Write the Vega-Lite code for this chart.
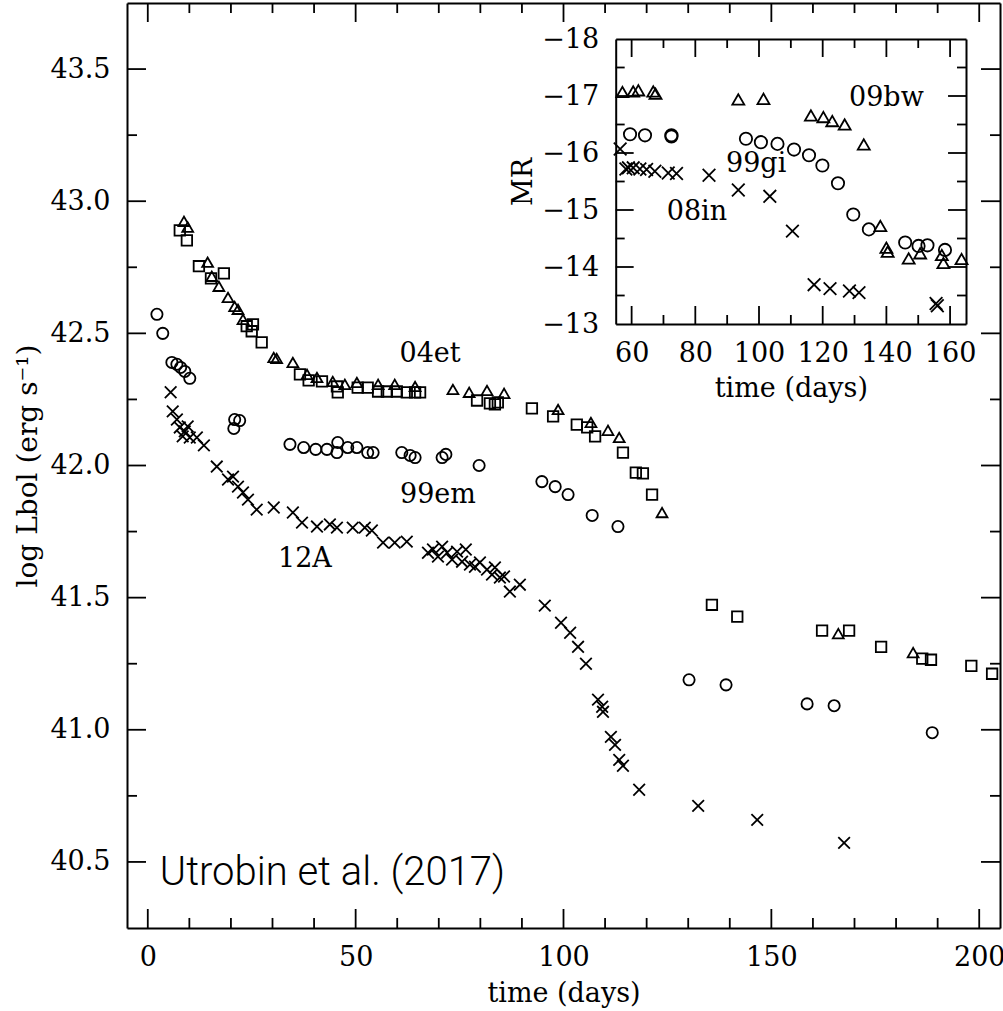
{
  "$schema": "https://vega.github.io/schema/vega-lite/v6.json",
  "width": 873,
  "height": 925,
  "autosize": {"type": "none"},
  "padding": {"left": 127, "top": 3, "right": 3, "bottom": 83},
  "background": "white",
  "config": {
    "view": {"stroke": null},
    "rule": {"color": "black", "strokeWidth": 1.8, "opacity": 1},
    "axis": {
      "grid": false,
      "domainColor": "black",
      "domainWidth": 2,
      "labelColor": "black",
      "titleColor": "black",
      "labelFont": "DejaVu Serif",
      "titleFont": "DejaVu Serif",
      "labelFontSize": 27,
      "titleFontSize": 27,
      "titleFontWeight": "normal",
      "labelFlush": false,
      "labelOverlap": false
    }
  },
  "datasets": {
    "main": [
      {"d": 7.7, "L": 42.890, "s": "04et_sq"}, {"d": 9.4, "L": 42.852, "s": "04et_sq"}, {"d": 12.3, "L": 42.754, "s": "04et_sq"},
      {"d": 15.2, "L": 42.708, "s": "04et_sq"}, {"d": 18.3, "L": 42.727, "s": "04et_sq"}, {"d": 23.8, "L": 42.527, "s": "04et_sq"},
      {"d": 25.3, "L": 42.534, "s": "04et_sq"}, {"d": 25.0, "L": 42.508, "s": "04et_sq"}, {"d": 27.4, "L": 42.466, "s": "04et_sq"},
      {"d": 36.6, "L": 42.345, "s": "04et_sq"}, {"d": 38.7, "L": 42.322, "s": "04et_sq"}, {"d": 41.9, "L": 42.318, "s": "04et_sq"},
      {"d": 45.5, "L": 42.299, "s": "04et_sq"}, {"d": 45.7, "L": 42.277, "s": "04et_sq"}, {"d": 50.5, "L": 42.295, "s": "04et_sq"},
      {"d": 52.9, "L": 42.295, "s": "04et_sq"}, {"d": 55.4, "L": 42.280, "s": "04et_sq"}, {"d": 57.5, "L": 42.280, "s": "04et_sq"},
      {"d": 59.9, "L": 42.280, "s": "04et_sq"}, {"d": 62.3, "L": 42.277, "s": "04et_sq"}, {"d": 64.3, "L": 42.277, "s": "04et_sq"},
      {"d": 65.5, "L": 42.277, "s": "04et_sq"}, {"d": 79.2, "L": 42.246, "s": "04et_sq"}, {"d": 82.3, "L": 42.235, "s": "04et_sq"},
      {"d": 83.5, "L": 42.231, "s": "04et_sq"}, {"d": 84.2, "L": 42.239, "s": "04et_sq"}, {"d": 92.4, "L": 42.216, "s": "04et_sq"},
      {"d": 97.5, "L": 42.186, "s": "04et_sq"}, {"d": 103.2, "L": 42.155, "s": "04et_sq"}, {"d": 105.7, "L": 42.144, "s": "04et_sq"},
      {"d": 107.6, "L": 42.110, "s": "04et_sq"}, {"d": 114.3, "L": 42.049, "s": "04et_sq"}, {"d": 117.4, "L": 41.973, "s": "04et_sq"},
      {"d": 119.1, "L": 41.970, "s": "04et_sq"}, {"d": 121.3, "L": 41.890, "s": "04et_sq"}, {"d": 135.7, "L": 41.473, "s": "04et_sq"},
      {"d": 141.8, "L": 41.428, "s": "04et_sq"}, {"d": 162.2, "L": 41.375, "s": "04et_sq"}, {"d": 168.7, "L": 41.375, "s": "04et_sq"},
      {"d": 176.4, "L": 41.314, "s": "04et_sq"}, {"d": 186.3, "L": 41.269, "s": "04et_sq"}, {"d": 188.4, "L": 41.265, "s": "04et_sq"},
      {"d": 198.1, "L": 41.242, "s": "04et_sq"}, {"d": 203.1, "L": 41.212, "s": "04et_sq"},

      {"d": 8.7, "L": 42.924, "s": "04et_tri"}, {"d": 9.6, "L": 42.902, "s": "04et_tri"}, {"d": 14.4, "L": 42.769, "s": "04et_tri"},
      {"d": 15.4, "L": 42.716, "s": "04et_tri"}, {"d": 17.1, "L": 42.678, "s": "04et_tri"}, {"d": 19.3, "L": 42.636, "s": "04et_tri"},
      {"d": 20.9, "L": 42.602, "s": "04et_tri"}, {"d": 21.7, "L": 42.591, "s": "04et_tri"}, {"d": 22.9, "L": 42.553, "s": "04et_tri"},
      {"d": 30.3, "L": 42.409, "s": "04et_tri"}, {"d": 31.0, "L": 42.405, "s": "04et_tri"}, {"d": 34.9, "L": 42.390, "s": "04et_tri"},
      {"d": 38.3, "L": 42.345, "s": "04et_tri"}, {"d": 40.7, "L": 42.333, "s": "04et_tri"}, {"d": 44.5, "L": 42.318, "s": "04et_tri"},
      {"d": 47.4, "L": 42.307, "s": "04et_tri"}, {"d": 50.3, "L": 42.314, "s": "04et_tri"}, {"d": 55.4, "L": 42.307, "s": "04et_tri"},
      {"d": 59.4, "L": 42.307, "s": "04et_tri"}, {"d": 64.3, "L": 42.299, "s": "04et_tri"}, {"d": 73.4, "L": 42.288, "s": "04et_tri"},
      {"d": 77.3, "L": 42.277, "s": "04et_tri"}, {"d": 81.6, "L": 42.284, "s": "04et_tri"}, {"d": 85.7, "L": 42.273, "s": "04et_tri"},
      {"d": 98.7, "L": 42.212, "s": "04et_tri"}, {"d": 106.6, "L": 42.163, "s": "04et_tri"}, {"d": 110.7, "L": 42.133, "s": "04et_tri"},
      {"d": 113.4, "L": 42.106, "s": "04et_tri"}, {"d": 123.7, "L": 41.822, "s": "04et_tri"}, {"d": 166.1, "L": 41.364, "s": "04et_tri"},
      {"d": 184.1, "L": 41.292, "s": "04et_tri"},

      {"d": 2.2, "L": 42.572, "s": "99em"}, {"d": 3.6, "L": 42.500, "s": "99em"}, {"d": 5.8, "L": 42.390, "s": "99em"},
      {"d": 7.0, "L": 42.383, "s": "99em"}, {"d": 7.9, "L": 42.371, "s": "99em"}, {"d": 8.9, "L": 42.356, "s": "99em"},
      {"d": 10.1, "L": 42.330, "s": "99em"}, {"d": 20.9, "L": 42.174, "s": "99em"}, {"d": 22.1, "L": 42.170, "s": "99em"},
      {"d": 20.7, "L": 42.140, "s": "99em"}, {"d": 34.2, "L": 42.080, "s": "99em"}, {"d": 37.5, "L": 42.068, "s": "99em"},
      {"d": 40.4, "L": 42.061, "s": "99em"}, {"d": 43.1, "L": 42.061, "s": "99em"}, {"d": 45.7, "L": 42.087, "s": "99em"},
      {"d": 45.5, "L": 42.049, "s": "99em"}, {"d": 48.1, "L": 42.068, "s": "99em"}, {"d": 50.3, "L": 42.068, "s": "99em"},
      {"d": 52.9, "L": 42.049, "s": "99em"}, {"d": 54.2, "L": 42.049, "s": "99em"}, {"d": 61.1, "L": 42.049, "s": "99em"},
      {"d": 63.1, "L": 42.038, "s": "99em"}, {"d": 64.3, "L": 42.030, "s": "99em"}, {"d": 70.8, "L": 42.030, "s": "99em"},
      {"d": 71.7, "L": 42.042, "s": "99em"}, {"d": 79.7, "L": 42.000, "s": "99em"}, {"d": 94.8, "L": 41.939, "s": "99em"},
      {"d": 98.0, "L": 41.920, "s": "99em"}, {"d": 101.1, "L": 41.890, "s": "99em"}, {"d": 106.9, "L": 41.811, "s": "99em"},
      {"d": 113.1, "L": 41.769, "s": "99em"}, {"d": 130.2, "L": 41.189, "s": "99em"}, {"d": 139.1, "L": 41.170, "s": "99em"},
      {"d": 158.6, "L": 41.098, "s": "99em"}, {"d": 165.1, "L": 41.091, "s": "99em"}, {"d": 188.7, "L": 40.989, "s": "99em"},

      {"d": 5.5, "L": 42.277, "s": "12A"}, {"d": 6.0, "L": 42.205, "s": "12A"}, {"d": 7.0, "L": 42.174, "s": "12A"},
      {"d": 7.7, "L": 42.144, "s": "12A"}, {"d": 8.9, "L": 42.129, "s": "12A"}, {"d": 9.6, "L": 42.148, "s": "12A"},
      {"d": 8.4, "L": 42.110, "s": "12A"}, {"d": 10.1, "L": 42.106, "s": "12A"}, {"d": 11.8, "L": 42.106, "s": "12A"},
      {"d": 13.5, "L": 42.076, "s": "12A"}, {"d": 16.6, "L": 41.996, "s": "12A"}, {"d": 19.3, "L": 41.947, "s": "12A"},
      {"d": 20.5, "L": 41.958, "s": "12A"}, {"d": 21.7, "L": 41.920, "s": "12A"}, {"d": 22.9, "L": 41.898, "s": "12A"},
      {"d": 24.1, "L": 41.871, "s": "12A"}, {"d": 26.2, "L": 41.833, "s": "12A"}, {"d": 30.3, "L": 41.841, "s": "12A"},
      {"d": 34.9, "L": 41.822, "s": "12A"}, {"d": 37.1, "L": 41.784, "s": "12A"}, {"d": 40.7, "L": 41.769, "s": "12A"},
      {"d": 43.8, "L": 41.777, "s": "12A"}, {"d": 45.5, "L": 41.765, "s": "12A"}, {"d": 49.3, "L": 41.765, "s": "12A"},
      {"d": 52.2, "L": 41.765, "s": "12A"}, {"d": 53.9, "L": 41.754, "s": "12A"}, {"d": 56.6, "L": 41.708, "s": "12A"},
      {"d": 59.4, "L": 41.708, "s": "12A"}, {"d": 62.3, "L": 41.712, "s": "12A"}, {"d": 67.4, "L": 41.670, "s": "12A"},
      {"d": 68.6, "L": 41.682, "s": "12A"}, {"d": 69.8, "L": 41.655, "s": "12A"}, {"d": 70.8, "L": 41.693, "s": "12A"},
      {"d": 72.0, "L": 41.670, "s": "12A"}, {"d": 73.2, "L": 41.644, "s": "12A"}, {"d": 74.4, "L": 41.674, "s": "12A"},
      {"d": 75.6, "L": 41.636, "s": "12A"}, {"d": 76.5, "L": 41.682, "s": "12A"}, {"d": 77.5, "L": 41.625, "s": "12A"},
      {"d": 78.7, "L": 41.617, "s": "12A"}, {"d": 79.9, "L": 41.633, "s": "12A"}, {"d": 81.6, "L": 41.606, "s": "12A"},
      {"d": 82.8, "L": 41.587, "s": "12A"}, {"d": 83.5, "L": 41.614, "s": "12A"}, {"d": 84.7, "L": 41.576, "s": "12A"},
      {"d": 85.7, "L": 41.580, "s": "12A"}, {"d": 87.1, "L": 41.523, "s": "12A"}, {"d": 89.5, "L": 41.549, "s": "12A"},
      {"d": 95.5, "L": 41.470, "s": "12A"}, {"d": 99.4, "L": 41.405, "s": "12A"}, {"d": 101.6, "L": 41.367, "s": "12A"},
      {"d": 103.5, "L": 41.314, "s": "12A"}, {"d": 105.4, "L": 41.250, "s": "12A"}, {"d": 108.3, "L": 41.114, "s": "12A"},
      {"d": 109.3, "L": 41.087, "s": "12A"}, {"d": 109.5, "L": 41.068, "s": "12A"}, {"d": 111.4, "L": 40.973, "s": "12A"},
      {"d": 112.4, "L": 40.943, "s": "12A"}, {"d": 113.4, "L": 40.886, "s": "12A"}, {"d": 114.3, "L": 40.864, "s": "12A"},
      {"d": 118.2, "L": 40.773, "s": "12A"}, {"d": 132.4, "L": 40.712, "s": "12A"}, {"d": 146.6, "L": 40.659, "s": "12A"},
      {"d": 167.5, "L": 40.572, "s": "12A"}
    ],
    "inset": [
      {"d": 57.1, "m": -17.07, "s": "09bw"}, {"d": 60.5, "m": -17.08, "s": "09bw"}, {"d": 62.1, "m": -17.10, "s": "09bw"},
      {"d": 66.8, "m": -17.08, "s": "09bw"}, {"d": 67.5, "m": -17.04, "s": "09bw"}, {"d": 93.5, "m": -16.94, "s": "09bw"},
      {"d": 101.4, "m": -16.95, "s": "09bw"}, {"d": 116.3, "m": -16.66, "s": "09bw"}, {"d": 120.2, "m": -16.63, "s": "09bw"},
      {"d": 123.0, "m": -16.56, "s": "09bw"}, {"d": 126.9, "m": -16.50, "s": "09bw"}, {"d": 132.9, "m": -16.15, "s": "09bw"},
      {"d": 138.1, "m": -14.72, "s": "09bw"}, {"d": 140.0, "m": -14.34, "s": "09bw"}, {"d": 140.4, "m": -14.27, "s": "09bw"},
      {"d": 147.0, "m": -14.15, "s": "09bw"}, {"d": 150.6, "m": -14.24, "s": "09bw"}, {"d": 157.4, "m": -14.21, "s": "09bw"},
      {"d": 157.9, "m": -14.07, "s": "09bw"}, {"d": 163.6, "m": -14.14, "s": "09bw"},

      {"d": 59.5, "m": -16.33, "s": "99gi"}, {"d": 64.2, "m": -16.31, "s": "99gi"}, {"d": 72.5, "m": -16.31, "s": "99gi"},
      {"d": 72.5, "m": -16.29, "s": "99gi"}, {"d": 95.9, "m": -16.25, "s": "99gi"}, {"d": 100.6, "m": -16.19, "s": "99gi"},
      {"d": 105.8, "m": -16.16, "s": "99gi"}, {"d": 111.0, "m": -16.06, "s": "99gi"}, {"d": 115.7, "m": -15.96, "s": "99gi"},
      {"d": 119.9, "m": -15.78, "s": "99gi"}, {"d": 124.8, "m": -15.47, "s": "99gi"}, {"d": 129.6, "m": -14.92, "s": "99gi"},
      {"d": 134.5, "m": -14.66, "s": "99gi"}, {"d": 145.9, "m": -14.43, "s": "99gi"}, {"d": 150.1, "m": -14.37, "s": "99gi"},
      {"d": 152.9, "m": -14.38, "s": "99gi"}, {"d": 158.4, "m": -14.30, "s": "99gi"},

      {"d": 56.4, "m": -16.07, "s": "08in"}, {"d": 58.2, "m": -15.72, "s": "08in"}, {"d": 59.0, "m": -15.74, "s": "08in"},
      {"d": 60.5, "m": -15.74, "s": "08in"}, {"d": 62.6, "m": -15.72, "s": "08in"}, {"d": 64.7, "m": -15.71, "s": "08in"},
      {"d": 67.3, "m": -15.68, "s": "08in"}, {"d": 71.5, "m": -15.65, "s": "08in"}, {"d": 74.1, "m": -15.64, "s": "08in"},
      {"d": 84.3, "m": -15.61, "s": "08in"}, {"d": 93.5, "m": -15.35, "s": "08in"}, {"d": 103.4, "m": -15.24, "s": "08in"},
      {"d": 110.5, "m": -14.63, "s": "08in"}, {"d": 117.3, "m": -13.69, "s": "08in"}, {"d": 122.3, "m": -13.62, "s": "08in"},
      {"d": 128.4, "m": -13.58, "s": "08in"}, {"d": 131.4, "m": -13.55, "s": "08in"}, {"d": 155.6, "m": -13.36, "s": "08in"},
      {"d": 156.0, "m": -13.32, "s": "08in"}
    ],
    "ann": [
      {"d": 67.9, "L": 42.39, "t": "04et"},
      {"d": 69.8, "L": 41.86, "t": "99em"},
      {"d": 37.8, "L": 41.617, "t": "12A"}
    ],
    "credit": [
      {"d": 2.9, "L": 40.413, "t": "Utrobin et al. (2017)"}
    ],
    "inann": [
      {"d": 140.0, "m": -16.83, "t": "09bw"},
      {"d": 99.1, "m": -15.67, "t": "99gi"},
      {"d": 80.5, "m": -14.82, "t": "08in"}
    ],
    "mxmaj": [{"v": 0}, {"v": 50}, {"v": 100}, {"v": 150}, {"v": 200}],
    "mxmin": [{"v": 10}, {"v": 20}, {"v": 30}, {"v": 40}, {"v": 60}, {"v": 70}, {"v": 80}, {"v": 90}, {"v": 110}, {"v": 120}, {"v": 130}, {"v": 140}, {"v": 160}, {"v": 170}, {"v": 180}, {"v": 190}],
    "mymaj": [{"v": 40.5}, {"v": 41.0}, {"v": 41.5}, {"v": 42.0}, {"v": 42.5}, {"v": 43.0}, {"v": 43.5}],
    "mymin": [{"v": 40.75}, {"v": 41.25}, {"v": 41.75}, {"v": 42.25}, {"v": 42.75}, {"v": 43.25}],
    "ixmaj": [{"v": 60}, {"v": 80}, {"v": 100}, {"v": 120}, {"v": 140}, {"v": 160}],
    "ixmin": [{"v": 70}, {"v": 90}, {"v": 110}, {"v": 130}, {"v": 150}],
    "iymaj": [{"v": -17}, {"v": -16}, {"v": -15}, {"v": -14}],
    "iymin": [{"v": -17.5}, {"v": -16.5}, {"v": -15.5}, {"v": -14.5}, {"v": -13.5}]
  },
  "layer": [
    {
      "data": {"name": "main"},
      "mark": {"type": "point", "filled": false, "stroke": "black", "strokeWidth": 1.8, "opacity": 1},
      "encoding": {
        "x": {
          "field": "d", "type": "quantitative",
          "scale": {"domain": [-5, 205], "nice": false, "zero": false},
          "axis": {"orient": "bottom", "values": [0, 50, 100, 150, 200], "ticks": false, "tickSize": 0, "labelPadding": 16, "title": "time (days)", "titlePadding": 10}
        },
        "y": {
          "field": "L", "type": "quantitative",
          "scale": {"domain": [40.25, 43.75], "nice": false, "zero": false},
          "axis": {"orient": "left", "values": [40.5, 41, 41.5, 42, 42.5, 43, 43.5], "format": ".1f", "ticks": false, "tickSize": 0, "labelPadding": 17, "title": "log Lbol (erg s⁻¹)", "titleFontSize": 28, "titlePadding": 7}
        },
        "shape": {
          "field": "s", "type": "nominal", "legend": null,
          "scale": {
            "domain": ["04et_sq", "04et_tri", "99em", "12A", "09bw", "99gi", "08in"],
            "range": ["square", "triangle-up", "circle", "M-1,-1L1,1M1,-1L-1,1", "triangle-up", "circle", "M-1,-1L1,1M1,-1L-1,1"]
          }
        },
        "size": {
          "field": "s", "type": "nominal", "legend": null,
          "scale": {
            "domain": ["04et_sq", "04et_tri", "99em", "12A", "09bw", "99gi", "08in"],
            "range": [110, 160, 150, 120, 160, 150, 110]
          }
        }
      }
    },
    {
      "data": {"name": "ann"},
      "mark": {"type": "text", "font": "DejaVu Serif", "fontSize": 27, "align": "center", "baseline": "alphabetic", "color": "black"},
      "encoding": {
        "x": {
          "field": "d", "type": "quantitative",
          "scale": {"domain": [-5, 205], "nice": false, "zero": false},
          "axis": {"orient": "top", "values": [0, 50, 100, 150, 200], "ticks": false, "labels": false, "title": null}
        },
        "y": {
          "field": "L", "type": "quantitative",
          "scale": {"domain": [40.25, 43.75], "nice": false, "zero": false},
          "axis": {"orient": "right", "values": [40.5, 41, 41.5, 42, 42.5, 43, 43.5], "ticks": false, "labels": false, "title": null}
        },
        "text": {"field": "t", "type": "nominal"}
      }
    },
    {
      "data": {"name": "mxmaj"},
      "mark": {"type": "rule"},
      "encoding": {
        "x": {"field": "v", "type": "quantitative", "scale": {"domain": [-5, 205], "nice": false, "zero": false}, "axis": null},
        "y": {"datum": 40.25, "type": "quantitative", "scale": {"domain": [40.25, 43.75], "nice": false, "zero": false}, "axis": null},
        "y2": {"datum": 40.322}
      }
    },
    {
      "data": {"name": "mxmin"},
      "mark": {"type": "rule"},
      "encoding": {
        "x": {"field": "v", "type": "quantitative", "scale": {"domain": [-5, 205], "nice": false, "zero": false}, "axis": null},
        "y": {"datum": 40.25, "type": "quantitative", "scale": {"domain": [40.25, 43.75], "nice": false, "zero": false}, "axis": null},
        "y2": {"datum": 40.288}
      }
    },
    {
      "data": {"name": "mxmaj"},
      "mark": {"type": "rule"},
      "encoding": {
        "x": {"field": "v", "type": "quantitative", "scale": {"domain": [-5, 205], "nice": false, "zero": false}, "axis": null},
        "y": {"datum": 43.678, "type": "quantitative", "scale": {"domain": [40.25, 43.75], "nice": false, "zero": false}, "axis": null},
        "y2": {"datum": 43.75}
      }
    },
    {
      "data": {"name": "mxmin"},
      "mark": {"type": "rule"},
      "encoding": {
        "x": {"field": "v", "type": "quantitative", "scale": {"domain": [-5, 205], "nice": false, "zero": false}, "axis": null},
        "y": {"datum": 43.712, "type": "quantitative", "scale": {"domain": [40.25, 43.75], "nice": false, "zero": false}, "axis": null},
        "y2": {"datum": 43.75}
      }
    },
    {
      "data": {"name": "mymaj"},
      "mark": {"type": "rule"},
      "encoding": {
        "y": {"field": "v", "type": "quantitative", "scale": {"domain": [40.25, 43.75], "nice": false, "zero": false}, "axis": null},
        "x": {"datum": -5, "type": "quantitative", "scale": {"domain": [-5, 205], "nice": false, "zero": false}, "axis": null},
        "x2": {"datum": -0.43}
      }
    },
    {
      "data": {"name": "mymin"},
      "mark": {"type": "rule"},
      "encoding": {
        "y": {"field": "v", "type": "quantitative", "scale": {"domain": [40.25, 43.75], "nice": false, "zero": false}, "axis": null},
        "x": {"datum": -5, "type": "quantitative", "scale": {"domain": [-5, 205], "nice": false, "zero": false}, "axis": null},
        "x2": {"datum": -2.59}
      }
    },
    {
      "data": {"name": "mymaj"},
      "mark": {"type": "rule"},
      "encoding": {
        "y": {"field": "v", "type": "quantitative", "scale": {"domain": [40.25, 43.75], "nice": false, "zero": false}, "axis": null},
        "x": {"datum": 200.43, "type": "quantitative", "scale": {"domain": [-5, 205], "nice": false, "zero": false}, "axis": null},
        "x2": {"datum": 205}
      }
    },
    {
      "data": {"name": "mymin"},
      "mark": {"type": "rule"},
      "encoding": {
        "y": {"field": "v", "type": "quantitative", "scale": {"domain": [40.25, 43.75], "nice": false, "zero": false}, "axis": null},
        "x": {"datum": 202.59, "type": "quantitative", "scale": {"domain": [-5, 205], "nice": false, "zero": false}, "axis": null},
        "x2": {"datum": 205}
      }
    },
    {
      "data": {"name": "credit"},
      "mark": {"type": "text", "font": "Roboto", "fontWeight": 300, "fontSize": 40, "align": "left", "baseline": "alphabetic", "color": "black"},
      "encoding": {
        "x": {"field": "d", "type": "quantitative", "scale": {"domain": [-5, 205], "nice": false, "zero": false}, "axis": null},
        "y": {"field": "L", "type": "quantitative", "scale": {"domain": [40.25, 43.75], "nice": false, "zero": false}, "axis": null},
        "text": {"field": "t", "type": "nominal"}
      }
    },
    {
      "data": {"name": "inset"},
      "mark": {"type": "point", "filled": false, "stroke": "black", "strokeWidth": 1.8, "opacity": 1},
      "encoding": {
        "x": {
          "field": "d", "type": "quantitative",
          "scale": {"domain": [55, 165], "range": [488.7, 839], "nice": false, "zero": false},
          "axis": {"orient": "bottom", "offset": -604, "values": [60, 80, 100, 120, 140, 160], "format": "d", "ticks": false, "tickSize": 0, "labelPadding": 16, "title": "time (days)", "titlePadding": 9}
        },
        "y": {
          "field": "m", "type": "quantitative",
          "scale": {"domain": [-18, -13], "range": [36, 321], "nice": false, "zero": false},
          "axis": {"orient": "left", "offset": -488.7, "values": [-18, -17, -16, -15, -14, -13], "format": "d", "ticks": false, "tickSize": 0, "labelPadding": 17, "title": "MR", "titlePadding": 4}
        },
        "shape": {
          "field": "s", "type": "nominal", "legend": null,
          "scale": {
            "domain": ["04et_sq", "04et_tri", "99em", "12A", "09bw", "99gi", "08in"],
            "range": ["square", "triangle-up", "circle", "M-1,-1L1,1M1,-1L-1,1", "triangle-up", "circle", "M-1,-1L1,1M1,-1L-1,1"]
          }
        },
        "size": {
          "field": "s", "type": "nominal", "legend": null,
          "scale": {
            "domain": ["04et_sq", "04et_tri", "99em", "12A", "09bw", "99gi", "08in"],
            "range": [110, 160, 150, 120, 160, 150, 110]
          }
        }
      }
    },
    {
      "data": {"name": "inann"},
      "mark": {"type": "text", "font": "DejaVu Serif", "fontSize": 27, "align": "center", "baseline": "alphabetic", "color": "black"},
      "encoding": {
        "x": {
          "field": "d", "type": "quantitative",
          "scale": {"domain": [55, 165], "range": [488.7, 839], "nice": false, "zero": false},
          "axis": {"orient": "top", "offset": -36, "values": [60, 80, 100, 120, 140, 160], "ticks": false, "labels": false, "title": null}
        },
        "y": {
          "field": "m", "type": "quantitative",
          "scale": {"domain": [-18, -13], "range": [36, 321], "nice": false, "zero": false},
          "axis": {"orient": "right", "offset": -34, "values": [-17, -16, -15, -14], "ticks": false, "labels": false, "title": null}
        },
        "text": {"field": "t", "type": "nominal"}
      }
    },
    {
      "data": {"name": "ixmaj"},
      "mark": {"type": "rule"},
      "encoding": {
        "x": {"field": "v", "type": "quantitative", "scale": {"domain": [55, 165], "range": [488.7, 839], "nice": false, "zero": false}, "axis": null},
        "y": {"datum": -13.316, "type": "quantitative", "scale": {"domain": [-18, -13], "range": [36, 321], "nice": false, "zero": false}, "axis": null},
        "y2": {"datum": -13}
      }
    },
    {
      "data": {"name": "ixmin"},
      "mark": {"type": "rule"},
      "encoding": {
        "x": {"field": "v", "type": "quantitative", "scale": {"domain": [55, 165], "range": [488.7, 839], "nice": false, "zero": false}, "axis": null},
        "y": {"datum": -13.158, "type": "quantitative", "scale": {"domain": [-18, -13], "range": [36, 321], "nice": false, "zero": false}, "axis": null},
        "y2": {"datum": -13}
      }
    },
    {
      "data": {"name": "ixmaj"},
      "mark": {"type": "rule"},
      "encoding": {
        "x": {"field": "v", "type": "quantitative", "scale": {"domain": [55, 165], "range": [488.7, 839], "nice": false, "zero": false}, "axis": null},
        "y": {"datum": -18, "type": "quantitative", "scale": {"domain": [-18, -13], "range": [36, 321], "nice": false, "zero": false}, "axis": null},
        "y2": {"datum": -17.684}
      }
    },
    {
      "data": {"name": "ixmin"},
      "mark": {"type": "rule"},
      "encoding": {
        "x": {"field": "v", "type": "quantitative", "scale": {"domain": [55, 165], "range": [488.7, 839], "nice": false, "zero": false}, "axis": null},
        "y": {"datum": -18, "type": "quantitative", "scale": {"domain": [-18, -13], "range": [36, 321], "nice": false, "zero": false}, "axis": null},
        "y2": {"datum": -17.842}
      }
    },
    {
      "data": {"name": "iymaj"},
      "mark": {"type": "rule"},
      "encoding": {
        "y": {"field": "v", "type": "quantitative", "scale": {"domain": [-18, -13], "range": [36, 321], "nice": false, "zero": false}, "axis": null},
        "x": {"datum": 55, "type": "quantitative", "scale": {"domain": [55, 165], "range": [488.7, 839], "nice": false, "zero": false}, "axis": null},
        "x2": {"datum": 60.64}
      }
    },
    {
      "data": {"name": "iymin"},
      "mark": {"type": "rule"},
      "encoding": {
        "y": {"field": "v", "type": "quantitative", "scale": {"domain": [-18, -13], "range": [36, 321], "nice": false, "zero": false}, "axis": null},
        "x": {"datum": 55, "type": "quantitative", "scale": {"domain": [55, 165], "range": [488.7, 839], "nice": false, "zero": false}, "axis": null},
        "x2": {"datum": 57.82}
      }
    },
    {
      "data": {"name": "iymaj"},
      "mark": {"type": "rule"},
      "encoding": {
        "y": {"field": "v", "type": "quantitative", "scale": {"domain": [-18, -13], "range": [36, 321], "nice": false, "zero": false}, "axis": null},
        "x": {"datum": 159.36, "type": "quantitative", "scale": {"domain": [55, 165], "range": [488.7, 839], "nice": false, "zero": false}, "axis": null},
        "x2": {"datum": 165}
      }
    },
    {
      "data": {"name": "iymin"},
      "mark": {"type": "rule"},
      "encoding": {
        "y": {"field": "v", "type": "quantitative", "scale": {"domain": [-18, -13], "range": [36, 321], "nice": false, "zero": false}, "axis": null},
        "x": {"datum": 162.18, "type": "quantitative", "scale": {"domain": [55, 165], "range": [488.7, 839], "nice": false, "zero": false}, "axis": null},
        "x2": {"datum": 165}
      }
    }
  ],
  "resolve": {
    "scale": {"x": "independent", "y": "independent", "size": "independent", "shape": "independent"},
    "axis": {"x": "independent", "y": "independent"}
  }
}
